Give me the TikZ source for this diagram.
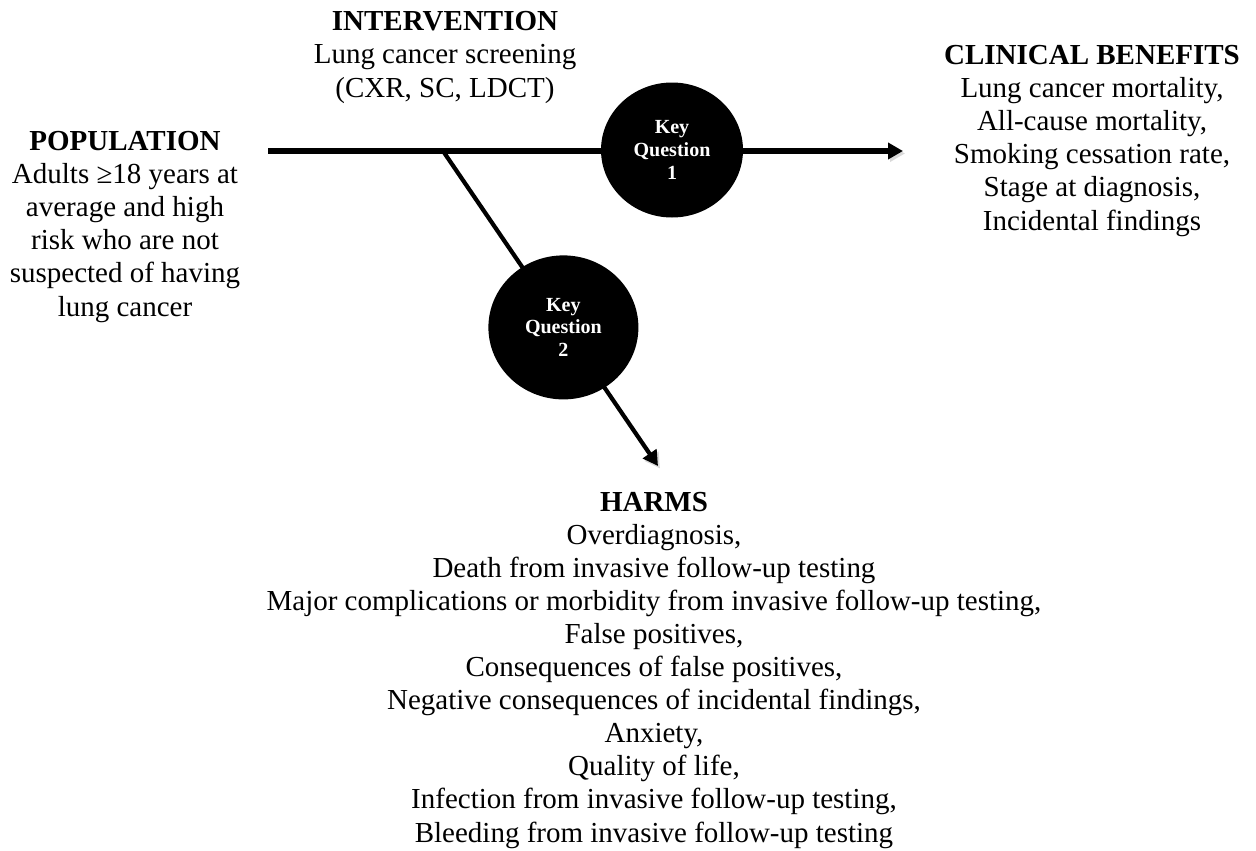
\documentclass[tikz,border=0pt]{standalone}
\usepackage{fontspec}
\setmainfont{Liberation Serif}
\usepackage{tikz}
\usetikzlibrary{arrows.meta,shapes.geometric,positioning,calc}

\begin{document}
\begin{tikzpicture}[
  block/.style={align=center,inner sep=0pt,anchor=base,
                font=\fontsize{16.5}{18.8}\selectfont},
  kq/.style={ellipse,fill=black,text=white,inner sep=0pt,align=center,
             font=\fontsize{11.4}{12.9}\selectfont\bfseries},
  arr/.style={-{Triangle[length=0.3cm,width=0.32cm]},line width=3pt,
              preaction={draw=black!15,transform canvas={shift={(0.04,-0.05)}}}}
]
\useasboundingbox (0,0) rectangle (25.12,-17);

% Text blocks (anchor = last baseline)
\node[block] (pop) at (2.5,-6.32)
  {\textbf{POPULATION}\\Adults ≥18 years at\\average and high\\risk who are not\\suspected of having\\lung cancer};
\node[block] (int) at (8.9,-1.94)
  {\textbf{INTERVENTION}\\Lung cancer screening\\(CXR, SC, LDCT)};
\node[block] (ben) at (21.84,-4.6)
  {\textbf{CLINICAL BENEFITS}\\Lung cancer mortality,\\All-cause mortality,\\Smoking cessation rate,\\Stage at diagnosis,\\Incidental findings};
\node[block] (harm) at (13.08,-16.84)
  {\textbf{HARMS}\\Overdiagnosis,\\Death from invasive follow-up testing\\Major complications or morbidity from invasive follow-up testing,\\False positives,\\Consequences of false positives,\\Negative consequences of incidental findings,\\Anxiety,\\Quality of life,\\Infection from invasive follow-up testing,\\Bleeding from invasive follow-up testing};

% Arrows
\coordinate (start) at (5.36,-3.02);
\coordinate (fork)  at (8.86,-3.02);
\coordinate (tip1)  at (18.06,-3.02);
\coordinate (tip2)  at (13.16,-9.32);
\draw[arr] (start) -- (tip1);
\draw[arr,line width=2.4pt] (fork) -- (tip2);

% Key questions
\node[kq,minimum width=2.84cm,minimum height=2.7cm] (kq1) at (13.44,-3.0) {Key\\Question\\1};
\node[kq,minimum width=3cm,minimum height=2.88cm] (kq2) at ($(fork)!0.56!(tip2)$) {Key\\Question\\2};
\end{tikzpicture}
\end{document}
